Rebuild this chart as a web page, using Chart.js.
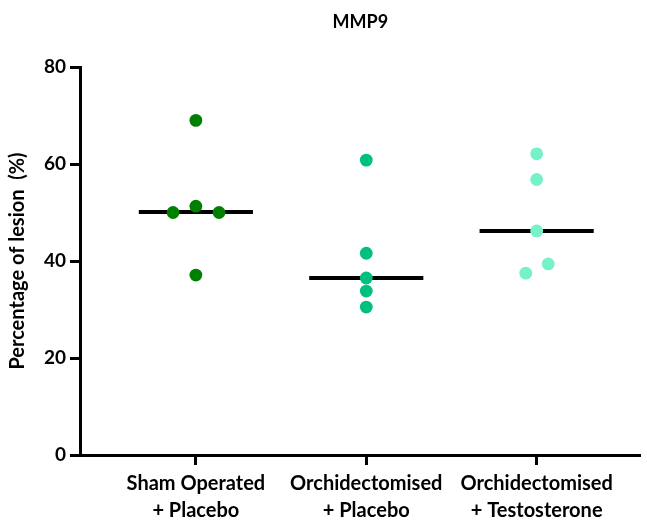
<!DOCTYPE html>
<html>
<head>
<meta charset="utf-8">
<script src="https://cdn.jsdelivr.net/npm/chart.js@4/dist/chart.umd.min.js"></script>
<style>
html,body{margin:0;padding:0;background:#fff;}
#wrap{width:647px;height:521px;position:relative;}
</style>
</head>
<body>
<div id="wrap"><canvas id="c" width="647" height="521"></canvas></div>
<script>
const chartTitle = 'MMP9';
const categories = [["Sham Operated", "+ Placebo"], ["Orchidectomised", "+ Placebo"], ["Orchidectomised", "+ Testosterone"]];
const shamValues = [69.0, 51.3, 50.0, 50.0, 37.1];
const shamJitter = [0, 0, -0.134, 0.136, 0];
const orchPlaceboValues = [60.8, 41.6, 36.5, 33.8, 30.5];
const orchPlaceboJitter = [0, 0, 0, 0, 0];
const orchTestoValues = [62.1, 56.8, 46.2, 39.4, 37.5];
const orchTestoJitter = [0, 0, 0, 0.068, -0.064];
const medians = [50.1, 36.5, 46.2];
const yTicks = [0, 20, 40, 60, 80];
const colors = ["#008000", "#00C07F", "#77F2C6"];

const groups = [
  {values: shamValues, jitter: shamJitter},
  {values: orchPlaceboValues, jitter: orchPlaceboJitter},
  {values: orchTestoValues, jitter: orchTestoJitter}
];

const datasets = [];
groups.forEach((g, i) => {
  datasets.push({
    type: 'scatter',
    label: categories[i].join(' '),
    data: g.values.map((v, k) => ({x: i + 1 + g.jitter[k], y: v})),
    backgroundColor: colors[i],
    borderWidth: 0,
    pointRadius: 6.4,
    pointHoverRadius: 6.4,
    order: 1
  });
  datasets.push({
    type: 'line',
    label: 'median ' + (i + 1),
    data: [{x: i + 1 - 0.335, y: medians[i]}, {x: i + 1 + 0.335, y: medians[i]}],
    borderColor: '#000',
    borderWidth: 4,
    pointRadius: 0,
    borderCapStyle: 'butt',
    order: 2
  });
});

const FONT = "Lato, 'Open Sans', sans-serif";

const areaTitle = {
  id: 'areaTitle',
  afterDraw(chart) {
    const ctx = chart.ctx, a = chart.chartArea;
    ctx.save();
    ctx.fillStyle = '#000';
    ctx.font = "bold 18px " + FONT;
    ctx.textAlign = 'center';
    ctx.textBaseline = 'middle';
    ctx.fillText(chartTitle, (a.left + a.right) / 2, 22);
    ctx.restore();
  }
};

new Chart(document.getElementById('c'), {
  type: 'scatter',
  data: {datasets},
  plugins: [areaTitle],
  options: {
    responsive: false,
    animation: false,
    events: [],
    layout: {padding: {left: 0, right: -3, top: 67, bottom: 0}},
    plugins: {
      legend: {display: false},
      tooltip: {enabled: false},
      title: {display: false}
    },
    scales: {
      x: {
        type: 'linear',
        min: 0.32,
        max: 3.61,
        afterBuildTicks: (s) => { s.ticks = [1, 2, 3].map(v => ({value: v})); },
        afterFit: (s) => { s.height = 66; },
        border: {display: true, color: '#000', width: 3},
        grid: {display: true, drawOnChartArea: false, drawTicks: true, tickLength: 10, tickWidth: 3, tickColor: '#000'},
        ticks: {
          color: '#000',
          padding: 5,
          maxRotation: 0,
          autoSkip: false,
          font: {family: FONT, size: 20, weight: 'bold', lineHeight: 1.35},
          callback: (v) => categories[Math.round(v) - 1] || ''
        }
      },
      y: {
        min: 0,
        max: 80,
        afterBuildTicks: (s) => { s.ticks = yTicks.map(v => ({value: v})); },
        afterFit: (s) => { s.width = 80; },
        border: {display: true, color: '#000', width: 3},
        grid: {display: true, drawOnChartArea: false, drawTicks: true, tickLength: 10, tickWidth: 3, tickColor: '#000'},
        ticks: {
          color: '#000',
          padding: 4,
          font: {family: FONT, size: 19, weight: 'bold'}
        },
        title: {
          display: true,
          text: 'Percentage of lesion  (%)',
          color: '#000',
          font: {family: FONT, size: 20, weight: 'bold', lineHeight: 1.2},
          padding: {top: 6, bottom: 0}
        }
      }
    }
  }
});
</script>
</body>
</html>
